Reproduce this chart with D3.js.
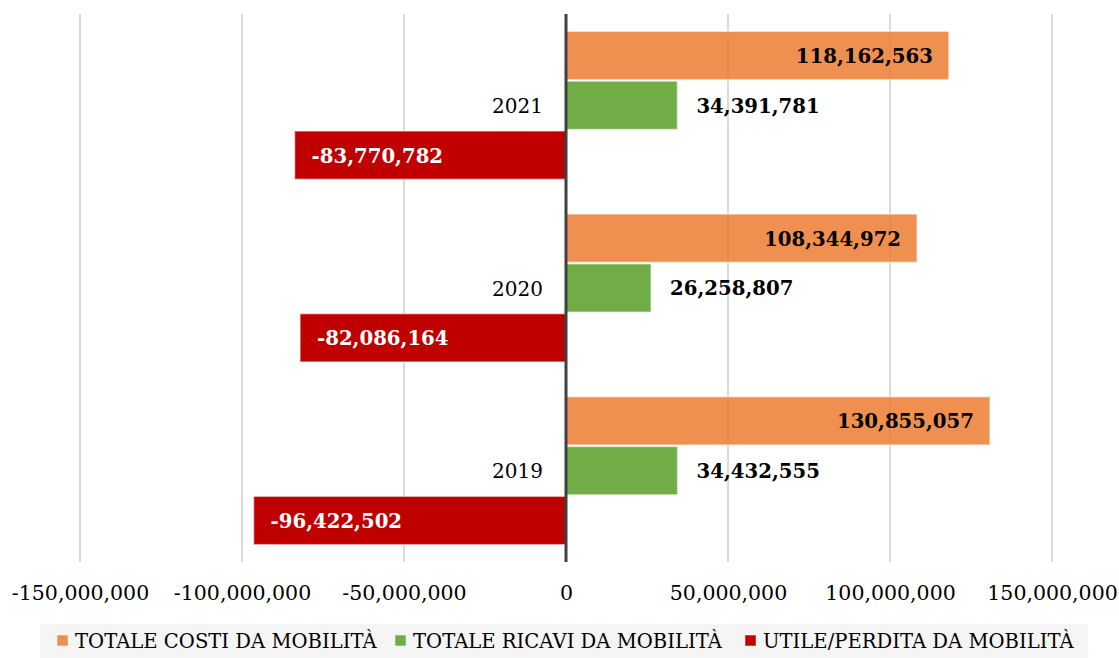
<!DOCTYPE html>
<html>
<head>
<meta charset="utf-8">
<script src="https://cdnjs.cloudflare.com/ajax/libs/d3/7.8.5/d3.min.js"></script>
<style>
  html, body { margin: 0; padding: 0; background: #ffffff; }
  svg { display: block; }
</style>
</head>
<body>
<svg id="chart" width="1119" height="658"></svg>
<script>
const categories = ["2021", "2020", "2019"];
const seriesNames = ["TOTALE COSTI DA MOBILITÀ", "TOTALE RICAVI DA MOBILITÀ", "UTILE/PERDITA DA MOBILITÀ"];
const costi = [118162563, 108344972, 130855057];
const ricavi = [34391781, 26258807, 34432555];
const utile = [-83770782, -82086164, -96422502];
const tickValues = [-150000000, -100000000, -50000000, 0, 50000000, 100000000, 150000000];
const colors = ["#ED7D31", "#70AD47", "#C00000"];

const svg = d3.select("#chart");
const FONT = "'DejaVu Serif', 'Liberation Serif', serif";

const x = d3.scaleLinear().domain([-150000000, 150000000]).range([80, 1052]);
const y = d3.scaleBand().domain(categories).range([14, 562]).paddingInner(0.19).paddingOuter(0.095);
const yInner = d3.scaleBand().domain([0, 1, 2]).range([0, y.bandwidth()]).paddingInner(0.03);

const fmt = v => d3.format(",")(v).replace("\u2212", "-");

// gridlines
svg.append("g").selectAll("line").data(tickValues.filter(d => d !== 0)).join("line")
  .attr("x1", d => x(d)).attr("x2", d => x(d))
  .attr("y1", 14).attr("y2", 562)
  .attr("stroke", "#c8c8c8").attr("stroke-width", 1.3);

// axis tick labels
const xAxis = d3.axisBottom(x).tickValues(tickValues).tickFormat(fmt).tickSize(0).tickPadding(0);
const gx = svg.append("g").attr("transform", "translate(0,585)").call(xAxis);
gx.select(".domain").remove();
gx.selectAll("text").attr("font-family", FONT).attr("font-size", 20.5).attr("fill", "#000").attr("dy", "0.74em");

const series = [costi, ricavi, utile];
series.forEach((vals, si) => {
  const g = svg.append("g");
  g.selectAll("rect").data(vals).join("rect")
    .attr("x", d => Math.min(x(0), x(d)))
    .attr("width", d => Math.abs(x(d) - x(0)))
    .attr("y", (d, i) => y(categories[i]) + yInner(si))
    .attr("height", yInner.bandwidth())
    .attr("fill", colors[si])
    .attr("fill-opacity", si === 0 ? 0.85 : 1)
    .attr("stroke", "#ffffff").attr("stroke-opacity", 0.5).attr("stroke-width", 1.5);
});

// zero axis line
svg.append("line").attr("x1", x(0)).attr("x2", x(0)).attr("y1", 14).attr("y2", 562)
  .attr("stroke", "#404040").attr("stroke-width", 3);

// data labels
const lblSize = 19.7;
// costi: inside end
svg.append("g").selectAll("text").data(costi).join("text")
  .attr("x", d => x(d) - 16)
  .attr("y", (d, i) => y(categories[i]) + yInner(0) + yInner.bandwidth() / 2)
  .attr("dy", "0.38em").attr("text-anchor", "end")
  .attr("font-family", FONT).attr("font-size", lblSize).attr("font-weight", "bold").attr("fill", "#000")
  .text(d => fmt(d));
// ricavi: outside end
svg.append("g").selectAll("text").data(ricavi).join("text")
  .attr("x", d => x(d) + 19)
  .attr("y", (d, i) => y(categories[i]) + yInner(1) + yInner.bandwidth() / 2)
  .attr("dy", "0.38em").attr("text-anchor", "start")
  .attr("font-family", FONT).attr("font-size", lblSize).attr("font-weight", "bold").attr("fill", "#000")
  .text(d => fmt(d));
// utile: inside end (left)
svg.append("g").selectAll("text").data(utile).join("text")
  .attr("x", d => x(d) + 17)
  .attr("y", (d, i) => y(categories[i]) + yInner(2) + yInner.bandwidth() / 2)
  .attr("dy", "0.38em").attr("text-anchor", "start")
  .attr("font-family", FONT).attr("font-size", lblSize).attr("font-weight", "bold").attr("fill", "#ffffff")
  .text(d => fmt(d));

// category labels
svg.append("g").selectAll("text").data(categories).join("text")
  .attr("x", 543)
  .attr("y", d => y(d) + yInner(1) + yInner.bandwidth() / 2)
  .attr("dy", "0.38em").attr("text-anchor", "end")
  .attr("font-family", FONT).attr("font-size", 20).attr("fill", "#000")
  .text(d => d);

// legend
svg.append("rect").attr("x", 40).attr("y", 624).attr("width", 1048).attr("height", 34).attr("fill", "#f5f5f5");
const legendX = [57, 395, 745];
const lg = svg.append("g").selectAll("g").data(seriesNames).join("g")
  .attr("transform", (d, i) => `translate(${legendX[i]},641)`);
lg.append("rect").attr("x", 0).attr("y", -6).attr("width", 11).attr("height", 11)
  .attr("fill", (d, i) => colors[i]).attr("fill-opacity", (d, i) => i === 0 ? 0.85 : 1)
  .attr("stroke", "#ffffff").attr("stroke-opacity", 0.5);
lg.append("text").attr("x", 18).attr("y", 0).attr("dy", "0.38em")
  .attr("font-family", FONT).attr("font-size", 19.6).attr("fill", "#000")
  .text(d => d);
</script>
</body>
</html>
